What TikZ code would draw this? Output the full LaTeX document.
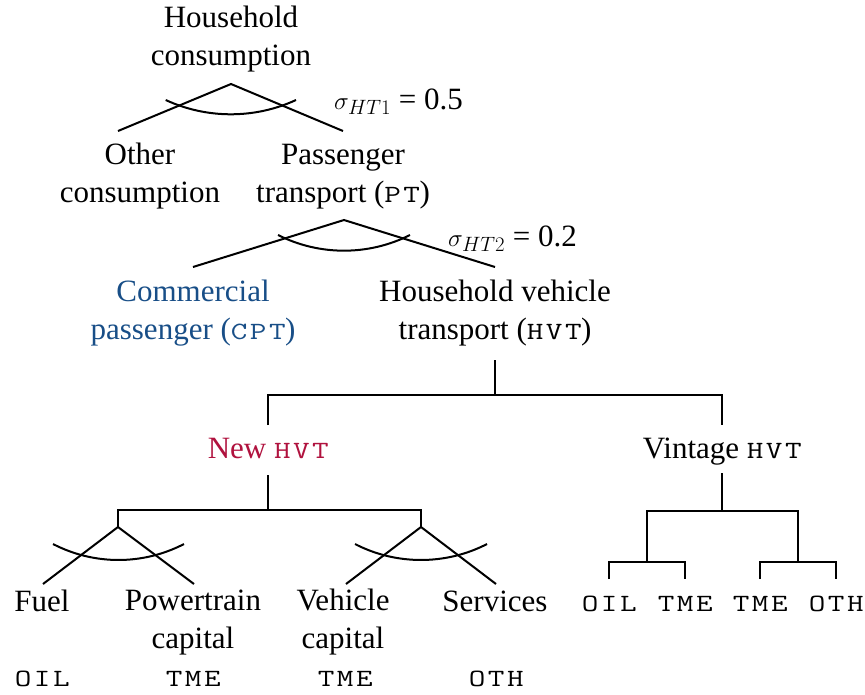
\documentclass[tikz,border=0pt]{standalone}
\usepackage{fontspec}
\setmainfont{Liberation Serif}
\setmonofont{Latin Modern Mono}[Scale=0.8, FakeStretch=1.3, LetterSpace=10]
\newcommand{\cd}[1]{\texttt{#1}\hspace{-3.1pt}}
\definecolor{cblue}{RGB}{24,78,135}
\definecolor{cred}{RGB}{176,18,62}
\begin{document}
\begin{tikzpicture}[x=1pt,y=-1pt,
  lab/.style={font=\fontsize{31}{38}\selectfont, align=center, inner sep=0pt, anchor=base},
  ln/.style={line width=2pt}]
\useasboundingbox (0,0) rectangle (865,694);
% text nodes (base = baseline of last line)
\node[lab] (hc) at (231,65) {Household\\consumption};
\node[lab] (oc) at (140,202) {Other\\consumption};
\node[lab] (pt) at (343,202) {Passenger\\transport (\cd{PT})};
\node[lab, text=cblue] (cpt) at (193,339) {Commercial\\passenger (\cd{CPT})};
\node[lab] (hvt) at (495,339) {Household vehicle\\transport (\cd{HVT})};
\node[lab, text=cred] (new) at (268,458) {New \cd{HVT}};
\node[lab] (vin) at (722,458) {Vintage \cd{HVT}};
\node[lab] (fuel) at (42,611) {Fuel};
\node[lab] (pwr) at (193,648) {Powertrain\\capital};
\node[lab] (veh) at (343,648) {Vehicle\\capital};
\node[lab] (ser) at (495,611) {Services};
\node[lab] (c1) at (42,686) {\cd{OIL}};
\node[lab] (c2) at (193,686) {\cd{TME}};
\node[lab] (c3) at (345,686) {\cd{TME}};
\node[lab] (c4) at (496,686) {\cd{OTH}};
\node[lab] (v1) at (609,611) {\cd{OIL}};
\node[lab] (v2) at (685,611) {\cd{TME}};
\node[lab] (v3) at (760,611) {\cd{TME}};
\node[lab] (v4) at (836,611) {\cd{OTH}};
\node[lab, anchor=base west] (s1) at (334,109) {$\sigma_{HT1}$ = 0.5};
\node[lab, anchor=base west] (s2) at (448,246) {$\sigma_{HT2}$ = 0.2};
% nested CES trees
\coordinate (a1) at (231,84);
\coordinate (a1l) at (118,131);
\coordinate (a1r) at (343,131);
\draw[ln] (a1l) -- (a1) -- (a1r);
\draw[ln] (165.7,100) .. controls (207,119.05) and (254.7,119.05) .. (296,100);
\coordinate (a2) at (344,220);
\coordinate (a2l) at (193,267);
\coordinate (a2r) at (495,267);
\draw[ln] (a2l) -- (a2) -- (a2r);
\draw[ln] (278,235) .. controls (319.5,255.9) and (368.5,255.9) .. (410,235);
\coordinate (a3) at (118,527);
\coordinate (a3l) at (43,584);
\coordinate (a3r) at (194,584);
\draw[ln] (a3l) -- (a3) -- (a3r);
\draw[ln] (53,544) .. controls (94.1,565.3) and (142.9,565.3) .. (184,544);
\coordinate (a4) at (421,527);
\coordinate (a4l) at (346,584);
\coordinate (a4r) at (496,584);
\draw[ln] (a4l) -- (a4) -- (a4r);
\draw[ln] (355,544) .. controls (396.1,565.3) and (445.9,565.3) .. (487,544);
% HVT split
\coordinate (h0) at (495,360);
\coordinate (h1) at (495,395);
\coordinate (hl) at (268,425);
\coordinate (hr) at (722,425);
\draw[ln] (h0) -- (h1);
\draw[ln] (hl) |- (h1) -| (hr);
% New HVT split
\coordinate (n0) at (268,475);
\coordinate (n1) at (268,510);
\draw[ln] (n0) -- (n1);
\draw[ln] (a3) |- (n1) -| (a4);
% Vintage split
\coordinate (w0) at (722,473);
\coordinate (w1) at (722,511);
\coordinate (wl) at (647,562);
\coordinate (wr) at (798,562);
\draw[ln] (w0) -- (w1);
\draw[ln] (wl) |- (w1) -| (wr);
\coordinate (x1) at (609,579);
\coordinate (x2) at (685,579);
\coordinate (x3) at (760,579);
\coordinate (x4) at (836,579);
\draw[ln] (x1) |- (wl) -| (x2);
\draw[ln] (x3) |- (wr) -| (x4);
\end{tikzpicture}
\end{document}
